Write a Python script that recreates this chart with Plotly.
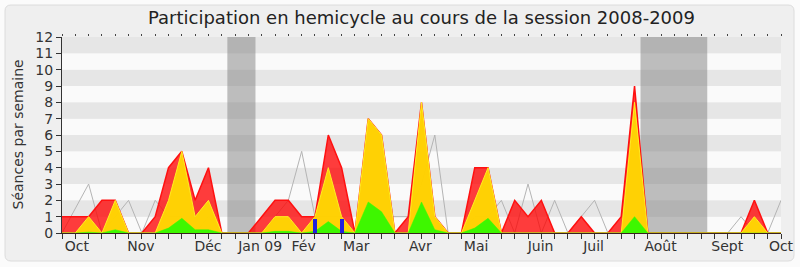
import plotly.graph_objects as go

# ---- data (one point per week, week index 0..54) ----
weeks = list(range(55))
red_total = [1, 1, 1, 2, 2, 0, 0, 1, 4, 5, 2, 4, 0, 0, 0, 1, 2, 2, 1, 1,
             6, 4, 0, 7, 6, 0, 1, 8, 1, 0, 0, 4, 4, 0, 2, 1, 2, 0, 0, 1,
             0, 0, 1, 9, 0, 0, 0, 0, 0, 0, 0, 0, 2, 0, 0]
yellow_vals = [0, 0, 1, 0, 2, 0, 0, 0, 2, 5, 1, 2, 0, 0, 0, 0, 1, 1, 0, 1,
               4, 1, 0, 7, 6, 0, 0, 8, 1, 0, 0, 2, 4, 0, 0, 0, 0, 0, 0, 0,
               0, 0, 0, 8, 0, 0, 0, 0, 0, 0, 0, 0, 1, 0, 0]
green_vals = [0, 0, 0.05, 0, 0.2, 0, 0, 0, 0.3, 0.9, 0.2, 0.2, 0, 0, 0, 0, 0.1, 0.1, 0, 0.1,
              0.7, 0.1, 0, 1.9, 1.3, 0, 0, 1.9, 0.2, 0, 0, 0.3, 0.9, 0, 0, 0, 0, 0, 0, 0,
              0, 0, 0, 1.0, 0, 0, 0, 0, 0, 0, 0, 0, 0, 0, 0]
median_vals = [0, 1.5, 3, 0, 1, 2, 0, 2, 1, 1, 0, 1, 0, 0, 0, 0, 1, 2, 5, 1,
               1, 1, 0, 1, 1, 1, 1, 3, 6, 0, 0, 1, 1, 2, 0, 3, 0, 2, 0, 1,
               2, 0, 0, 0, 0, 0, 0, 0, 0, 0, 0, 1, 0, 0, 2]
blue_weeks = [19, 21]
blue_vals = [0.87, 0.87]

holidays = [(12.42, 14.53), (43.45, 48.46)]

month_labels = ["Oct", "Nov", "Déc", "Jan 09", "Fév", "Mar", "Avr", "Mai",
                "Juin", "Juil", "Août", "Sept", "Oct"]
month_pos = [1.11, 5.93, 10.96, 14.88, 18.15, 22.1, 26.92, 31.1,
             35.94, 39.92, 44.95, 49.96, 54.0]
y_ticks = list(range(13))

FONT = "DejaVu Sans"
TXT = "#333333"

fig = go.Figure()

fig.add_trace(go.Scatter(x=weeks, y=median_vals, mode="lines",
                         line=dict(color="#b4b4b4", width=1), hoverinfo="skip"))
fig.add_trace(go.Scatter(x=weeks, y=red_total, mode="lines", fill="tozeroy",
                         fillcolor="rgba(255,0,0,0.76)",
                         line=dict(color="#ff1010", width=1.5), hoverinfo="skip"))
fig.add_trace(go.Scatter(x=weeks, y=yellow_vals, mode="lines", fill="tozeroy",
                         fillcolor="rgba(255,222,0,0.92)",
                         line=dict(color="#ffee22", width=1), hoverinfo="skip"))
fig.add_trace(go.Scatter(x=weeks, y=green_vals, mode="lines", fill="tozeroy",
                         fillcolor="rgba(20,255,0,0.82)",
                         line=dict(color="#33ff00", width=0.5), hoverinfo="skip"))
# blue bars on overlaying axis so they sit above the areas
fig.add_trace(go.Bar(x=blue_weeks, y=blue_vals, width=0.3, xaxis="x2",
                     marker=dict(color="#2222dd", line=dict(width=0)), hoverinfo="skip"))
# invisible trace to activate the top tick axis
fig.add_trace(go.Scatter(x=[0], y=[0], xaxis="x3", mode="markers",
                         marker=dict(opacity=0), hoverinfo="skip"))

W, H = 800, 267
L, R, T, B = 62, 19, 37, 34
PW, PH = W - L - R, H - T - B
x0, y0, x1, y1, r = 5, 5, 794, 261, 6
def fx(x): return (x - L) / PW
def fy(y): return (H - B - y) / PH
frame_path = (f"M {fx(x0+r)},{fy(y0)} L {fx(x1-r)},{fy(y0)} Q {fx(x1)},{fy(y0)} {fx(x1)},{fy(y0+r)} "
              f"L {fx(x1)},{fy(y1-r)} Q {fx(x1)},{fy(y1)} {fx(x1-r)},{fy(y1)} "
              f"L {fx(x0+r)},{fy(y1)} Q {fx(x0)},{fy(y1)} {fx(x0)},{fy(y1-r)} "
              f"L {fx(x0)},{fy(y0+r)} Q {fx(x0)},{fy(y0)} {fx(x0+r)},{fy(y0)} Z")

shapes = [dict(type="path", xref="paper", yref="paper", path=frame_path,
               fillcolor="#efefef", line=dict(color="#dcdcdc", width=1), layer="below")]
# alternating bands
for k in range(12):
    shapes.append(dict(type="rect", xref="x domain", yref="y", x0=0, x1=1, y0=k, y1=k + 1,
                       fillcolor="#e6e6e6" if k % 2 == 1 else "#fafafa",
                       line=dict(width=0), layer="below"))
for a, b in holidays:
    shapes.append(dict(type="rect", xref="x", yref="y domain", x0=a, x1=b, y0=0, y1=1,
                       fillcolor="rgba(128,128,128,0.5)", line=dict(width=0), layer="below"))

fig.update_layout(
    width=W, height=H,
    margin=dict(l=L, r=R, t=T, b=B, autoexpand=False),
    paper_bgcolor="#fbfbfb",
    plot_bgcolor="#fafafa",
    showlegend=False,
    bargap=0,
    font=dict(family=FONT, size=14, color=TXT),
    title=dict(text="Participation en hemicycle au cours de la session 2008-2009",
               font=dict(family=FONT, size=18, color="#222222"),
               x=0.5, xref="paper", xanchor="center",
               y=1 - 18 / 267, yref="container", yanchor="middle"),
    xaxis=dict(range=[0, 54], tickvals=weeks, ticktext=[""] * len(weeks),
               ticks="outside", ticklen=5, tickcolor=TXT, tickwidth=1,
               showline=True, linecolor="#3a2020", linewidth=1,
               showgrid=False, zeroline=False, automargin=False),
    xaxis2=dict(range=[0, 54], overlaying="x", anchor="y", side="bottom",
                tickvals=month_pos, ticktext=month_labels, ticks="",
                ticklabelstandoff=3,
                tickfont=dict(family=FONT, size=14, color=TXT),
                showline=False, showgrid=False, zeroline=False, automargin=False),
    xaxis3=dict(range=[0, 54], overlaying="x", anchor="y", side="top",
                tickvals=weeks, ticks="outside", ticklen=2, tickcolor="#444444",
                showticklabels=False, showline=False, showgrid=False, zeroline=False,
                automargin=False),
    yaxis=dict(range=[0, 12], tickvals=y_ticks, ticks="outside", ticklen=5,
               tickcolor=TXT, showline=True, linecolor=TXT, linewidth=1,
               showgrid=False, zeroline=False, automargin=False,
               tickfont=dict(family=FONT, size=14, color=TXT)),
    shapes=shapes,
    annotations=[dict(text="Séances par semaine", textangle=-90, xref="paper", yref="paper",
                      x=fx(17.5), y=0.5, xanchor="center", yanchor="middle",
                      showarrow=False, font=dict(family=FONT, size=14, color=TXT))],
)

fig.write_html("out.html")
